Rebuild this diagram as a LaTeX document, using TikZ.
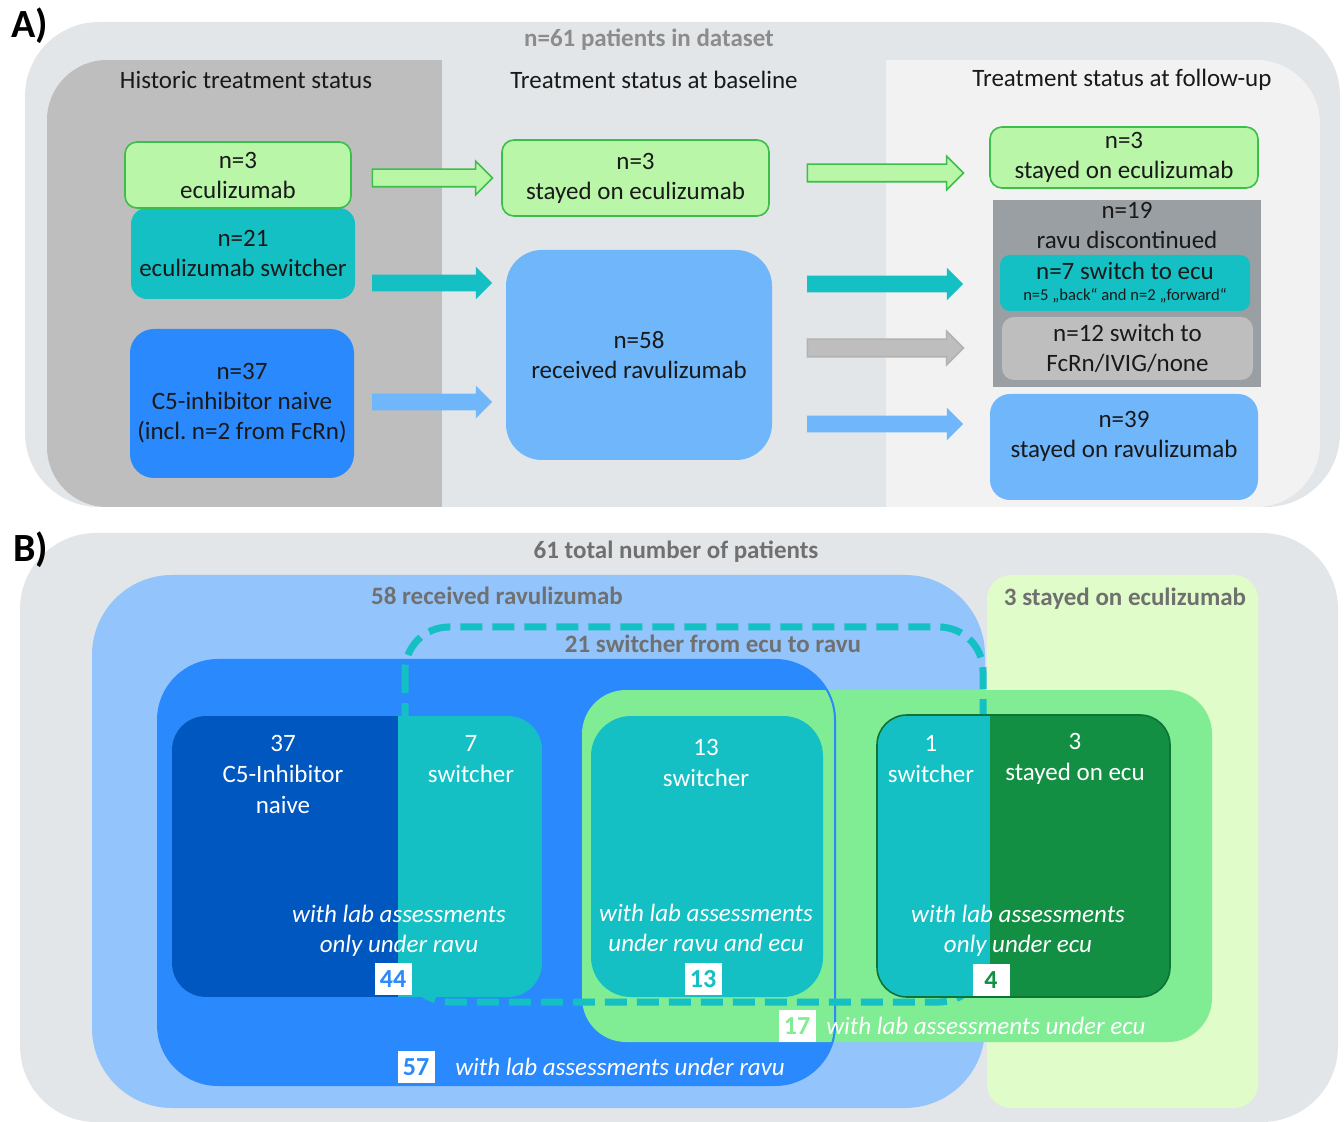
\documentclass[tikz,border=0pt]{standalone}
\usepackage{fontspec}
\setmainfont{Carlito}
\usetikzlibrary{shapes.arrows,positioning}

\definecolor{bgGrey}{RGB}{227,230,232}
\definecolor{histGrey}{RGB}{190,190,190}
\definecolor{fupGrey}{RGB}{242,242,242}
\definecolor{ecuGreen}{RGB}{185,246,168}
\definecolor{ecuLine}{RGB}{60,190,75}
\definecolor{switchTeal}{RGB}{20,192,196}
\definecolor{naiveBlue}{RGB}{42,137,252}
\definecolor{ravuBlue}{RGB}{111,182,251}
\definecolor{stopGrey}{RGB}{154,159,163}
\definecolor{titleGrey}{RGB}{140,140,140}
\definecolor{labelGrey}{RGB}{112,112,112}
\definecolor{areaBlue}{RGB}{147,197,252}
\definecolor{areaGreen}{RGB}{223,252,201}
\definecolor{labGreen}{RGB}{128,236,148}
\definecolor{deepBlue}{RGB}{0,87,191}
\definecolor{deepGreen}{RGB}{19,143,67}

\begin{document}
\begin{tikzpicture}[x=0.5pt, y=-0.5pt,
    fillbox/.style={align=center, inner sep=0pt, text=black!90, font=\fontsize{12.5}{15}\selectfont},
    ecubox/.style={fillbox, fill=ecuGreen, draw=ecuLine, line width=0.8pt, rounded corners=6pt},
    colhead/.style={text=black!90, font=\fontsize{12.5}{15}\selectfont},
    arealabel/.style={text=labelGrey, font=\bfseries\fontsize{12.5}{15}\selectfont},
    panel/.style={anchor=west, font=\bfseries\fontsize{20}{20}\selectfont},
    fatarrow/.style={single arrow, single arrow head extend=4pt, inner sep=4pt, minimum height=#1},
    inlabel/.style={align=center, inner sep=0pt, text=white, font=\fontsize{12.5}{15.5}\selectfont},
    labnote/.style={align=center, inner sep=0pt, text=white, font=\itshape\fontsize{12.5}{15}\selectfont},
    numtag/.style={fill=white, inner sep=0pt, minimum width=18.5pt, minimum height=16pt, font=\bfseries\fontsize{13}{13}\selectfont}]

    \useasboundingbox (0,0) rectangle (1344,1122);

    \fill[bgGrey, rounded corners=37pt] (25,22) rectangle (1340,507);
    \begin{scope}
        \clip[rounded corners=30pt] (47,60) rectangle (700,507);
        \fill[histGrey] (47,60) rectangle (442,507);
    \end{scope}
    \begin{scope}
        \clip[rounded corners=32pt] (700,60) rectangle (1320,507);
        \fill[fupGrey] (886,60) rectangle (1320,507);
    \end{scope}
    \node[panel] (lblA) at (4,26) {A)};

    \node[arealabel, text=titleGrey] (dataset) at (649,40) {n=61 patients in dataset};
    \node[colhead] (hHist) at (246,80) {Historic treatment status};
    \node[colhead] (hBase) at (654,80) {Treatment status at baseline};
    \node[colhead] (hFup) at (1122,80) {Treatment status at follow-up};

    \node[fillbox, fill=switchTeal, rounded corners=8pt, minimum width=112pt, minimum height=45.5pt] (hist21) at (243,253.5) {n=21\\eculizumab switcher};
    \node[ecubox, minimum width=113pt, minimum height=33pt] (hist3) at (238,175) {n=3\\eculizumab};
    \node[fillbox, fill=naiveBlue, rounded corners=12pt, minimum width=112pt, minimum height=74.5pt] (hist37) at (242,403.5) {n=37\\C5-inhibitor naive\\(incl.\ n=2 from FcRn)};

    \node[ecubox, minimum width=133.5pt, minimum height=38pt] (base3) at (635.5,178) {n=3\\stayed on eculizumab};
    \node[fillbox, fill=ravuBlue, rounded corners=18pt, minimum width=133pt, minimum height=105pt] (base58) at (639,355) {n=58\\received ravulizumab};

    \node[ecubox, minimum width=134pt, minimum height=30.5pt] (fup3) at (1124,157.5) {n=3\\stayed on eculizumab};
    \node[fillbox, fill=stopGrey, minimum width=134pt, minimum height=93.5pt] (fup19) at (1127,293.5) {};
    \node[fillbox, anchor=north] (fup19t) at (1127,202) {n=19\\ravu discontinued};
    \node[fillbox, fill=switchTeal, rounded corners=5pt, minimum width=125pt, minimum height=28pt] (fup7) at (1125,283) {n=7 switch to ecu\\[-4.5pt]{\fontsize{8.3}{9}\selectfont n=5 „back“ and n=2 „forward“}};
    \node[fillbox, fill=histGrey, rounded corners=6pt, minimum width=125.5pt, minimum height=31.5pt] (fup12) at (1127.5,348.5) {n=12 switch to\\FcRn/IVIG/none};
    \node[fillbox, fill=ravuBlue, rounded corners=10pt, minimum width=134pt, minimum height=53pt] (fup39) at (1124,447) {};
    \node[fillbox] (fup39t) at (1124,436) {n=39\\stayed on ravulizumab};

    \node[fatarrow=60pt, fill=ecuGreen, draw=ecuLine, line width=0.8pt] (a1) at (428,178) {};
    \node[fatarrow=60pt, fill=switchTeal] (a2) at (428,283) {};
    \node[fatarrow=60pt, fill=ravuBlue] (a3) at (428,402) {};
    \node[fatarrow=78pt, fill=ecuGreen, draw=ecuLine, line width=0.8pt] (a4) at (881,173) {};
    \node[fatarrow=78pt, fill=switchTeal] (a5) at (881,284) {};
    \node[fatarrow=78pt, fill=histGrey, draw=black!30, line width=0.8pt] (a6) at (881,348) {};
    \node[fatarrow=78pt, fill=ravuBlue] (a7) at (881,424) {};

    \fill[bgGrey, rounded corners=38pt] (20,533) rectangle (1338,1122);
    \node[panel] (lblB) at (6,550) {B)};
    \fill[areaBlue, rounded corners=40pt] (92,575) rectangle (985,1108);
    \fill[areaGreen, rounded corners=12pt] (987,575) rectangle (1258,1108);
    \fill[naiveBlue, rounded corners=30pt] (158,660) rectangle (835,1085);
    \fill[labGreen, rounded corners=22pt] (582,690) rectangle (1212,1042);
    \draw[naiveBlue, line width=1pt, rounded corners=30pt] (158,660) rectangle (835,1085);
    \draw[switchTeal, line width=3.5pt, dash pattern=on 11pt off 5pt, rounded corners=22pt] (405,627) rectangle (983,1002);

    \node[arealabel] (total) at (676,552) {61 total number of patients};
    \node[arealabel] (ravu) at (497,596) {58 received ravulizumab};
    \node[arealabel] (ecu) at (1125,599) {3 stayed on eculizumab};
    \node[arealabel] (switch) at (713,644) {21 switcher from ecu to ravu};

    \begin{scope}
        \clip[rounded corners=17pt] (172,716) rectangle (542,997);
        \fill[switchTeal] (172,716) rectangle (542,997);
        \fill[deepBlue] (172,716) rectangle (398,997);
    \end{scope}
    \fill[switchTeal, rounded corners=20pt] (591,716) rectangle (823,997);
    \begin{scope}
        \clip[rounded corners=15pt] (877,715) rectangle (1170,997);
        \fill[switchTeal] (877,715) rectangle (1170,997);
        \fill[deepGreen] (990,715) rectangle (1170,997);
    \end{scope}
    \draw[deepGreen!80!black, line width=0.8pt, rounded corners=15pt] (877,715) rectangle (1170,997);

    \node[inlabel] (n37) at (283,774) {37\\C5-Inhibitor\\naive};
    \node[inlabel] (n7) at (471,759) {7\\switcher};
    \node[inlabel] (n13) at (706,763) {13\\switcher};
    \node[inlabel] (n1) at (931,759) {1\\switcher};
    \node[inlabel] (n3) at (1075,759) {3\\stayed on ecu};

    \node[labnote] (onlyRavu) at (399,931) {with lab assessments\\only under ravu};
    \node[labnote] (bothLab) at (706,928) {with lab assessments\\under ravu and ecu};
    \node[labnote] (onlyEcu) at (1018,931) {with lab assessments\\only under ecu};

    \node[numtag, text=naiveBlue] (t44) at (393,979) {44};
    \node[numtag, text=switchTeal] (t13) at (703,979) {13};
    \node[numtag, text=deepGreen] (t4) at (991,980) {4};
    \node[numtag, text=labGreen] (t17) at (797,1026) {17};
    \node[labnote, right=5pt of t17] (labEcu) {with lab assessments under ecu};
    \node[numtag, text=naiveBlue] (t57) at (416,1067) {57};
    \node[labnote, right=10pt of t57] (labRavu) {with lab assessments under ravu};

\end{tikzpicture}
\end{document}
